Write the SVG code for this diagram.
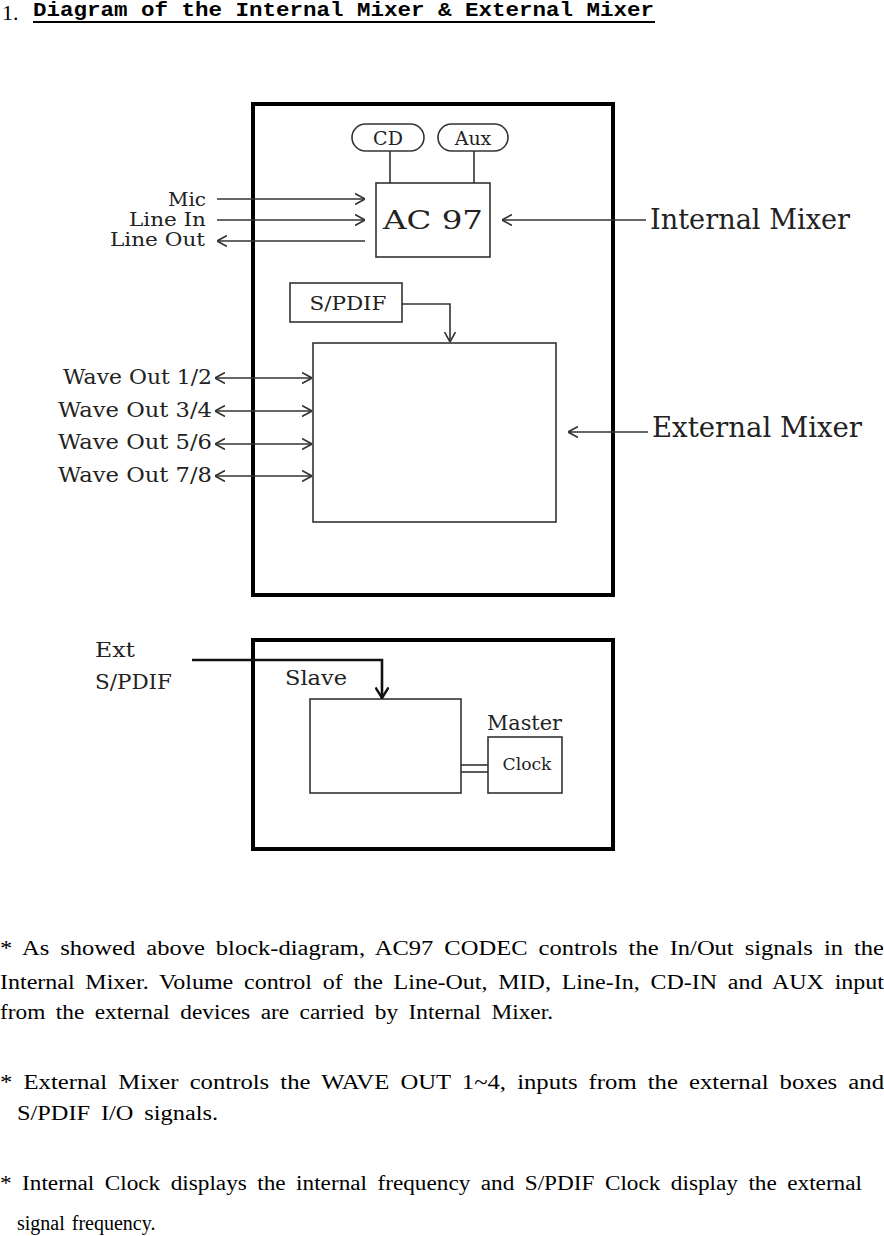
<svg xmlns="http://www.w3.org/2000/svg" width="884" height="1236" viewBox="0 0 884 1236">
<defs>
<style>
.bg{fill:#fff}
.outer{fill:none;stroke:#000;stroke-width:4}
.box{fill:#fff;stroke:#333;stroke-width:1.6}
.ln{fill:none;stroke:#333;stroke-width:1.6}
.thick{fill:none;stroke:#111;stroke-width:2.6}
.lbl{font-family:"DejaVu Serif","Liberation Serif",serif;fill:#222}
.para{font-family:"Liberation Serif","Noto Sans CJK KR",serif;font-size:20px;word-spacing:4px;fill:#000}
.title{font-family:"Liberation Mono","DejaVu Sans Mono",monospace;font-weight:bold;font-size:20px;fill:#000}
</style>
<marker id="ah" viewBox="0 0 10 12" refX="10" refY="6" markerWidth="10" markerHeight="12" markerUnits="userSpaceOnUse" orient="auto-start-reverse">
<path d="M0,0.5 L10,6 L0,11.5" fill="none" stroke="#333" stroke-width="1.6"/>
</marker>
<marker id="ahb" viewBox="0 0 12 14" refX="11" refY="7" markerWidth="12" markerHeight="14" markerUnits="userSpaceOnUse" orient="auto">
<path d="M0.5,0.5 L11,7 L0.5,13.5" fill="none" stroke="#111" stroke-width="2.4"/>
</marker>
</defs>
<rect class="bg" x="0" y="0" width="884" height="1236"/>

<g id="title">
<text x="2" y="20" font-family="Liberation Serif,serif" font-size="22" fill="#000">1.</text>
<text class="title" x="33" y="16" textLength="621" lengthAdjust="spacingAndGlyphs">Diagram of the Internal Mixer &amp; External Mixer</text>
<line x1="33" y1="22" x2="655" y2="22" stroke="#000" stroke-width="2"/>
</g>

<g id="outer-top"><rect class="outer" x="253" y="104" width="360" height="491"/></g>
<g id="outer-bottom"><rect class="outer" x="253" y="640" width="360" height="209"/></g>

<g id="cd"><rect class="box" x="352" y="124" width="72" height="27" rx="13.5"/>
<text class="lbl" x="388" y="145" font-size="19" text-anchor="middle">CD</text></g>
<g id="aux"><rect class="box" x="438" y="124" width="70" height="27" rx="13.5"/>
<text class="lbl" x="473" y="145" font-size="19" text-anchor="middle">Aux</text></g>
<g id="ac97"><rect class="box" x="376" y="183" width="114" height="74"/>
<text class="lbl" x="433" y="229" font-size="26" text-anchor="middle" textLength="100" lengthAdjust="spacingAndGlyphs">AC 97</text></g>

<g id="spdif"><rect class="box" x="290" y="283" width="112" height="39"/>
<text class="lbl" x="348" y="310" font-size="18" text-anchor="middle" textLength="77" lengthAdjust="spacingAndGlyphs">S/PDIF</text></g>
<g id="external-mixer-box"><rect class="box" x="313" y="343" width="243" height="179"/></g>

<g id="slave"><rect class="box" x="310" y="699" width="151" height="94"/>
<text class="lbl" x="285" y="685" font-size="21" textLength="62" lengthAdjust="spacingAndGlyphs">Slave</text></g>
<g id="clock"><rect class="box" x="488" y="737" width="74" height="56"/>
<text class="lbl" x="527" y="770" font-size="16" text-anchor="middle" textLength="49" lengthAdjust="spacingAndGlyphs">Clock</text>
<text class="lbl" x="487" y="730" font-size="21" textLength="75" lengthAdjust="spacingAndGlyphs">Master</text></g>

<g id="labels">
<text class="lbl" x="206" y="206" font-size="18" text-anchor="end" textLength="38" lengthAdjust="spacingAndGlyphs">Mic</text>
<text class="lbl" x="206" y="226" font-size="18" text-anchor="end" textLength="77" lengthAdjust="spacingAndGlyphs">Line In</text>
<text class="lbl" x="205" y="246" font-size="18" text-anchor="end" textLength="95" lengthAdjust="spacingAndGlyphs">Line Out</text>
<text class="lbl" x="650" y="229" font-size="27" textLength="200" lengthAdjust="spacingAndGlyphs">Internal Mixer</text>
<text class="lbl" x="652" y="437" font-size="27" textLength="210" lengthAdjust="spacingAndGlyphs">External Mixer</text>
<text class="lbl" x="212" y="384" font-size="20" text-anchor="end" textLength="149" lengthAdjust="spacingAndGlyphs">Wave Out 1/2</text>
<text class="lbl" x="212" y="417" font-size="20" text-anchor="end" textLength="154" lengthAdjust="spacingAndGlyphs">Wave Out 3/4</text>
<text class="lbl" x="212" y="449" font-size="20" text-anchor="end" textLength="154" lengthAdjust="spacingAndGlyphs">Wave Out 5/6</text>
<text class="lbl" x="212" y="482" font-size="20" text-anchor="end" textLength="154" lengthAdjust="spacingAndGlyphs">Wave Out 7/8</text>
<text class="lbl" x="95" y="657" font-size="21" textLength="40" lengthAdjust="spacingAndGlyphs">Ext</text>
<text class="lbl" x="95" y="689" font-size="21" textLength="77" lengthAdjust="spacingAndGlyphs">S/PDIF</text>
</g>

<g id="connectors">
<line class="ln" x1="217" y1="199" x2="365" y2="199" marker-end="url(#ah)"/>
<line class="ln" x1="217" y1="220" x2="365" y2="220" marker-end="url(#ah)"/>
<line class="ln" x1="365" y1="241" x2="217" y2="241" marker-end="url(#ah)"/>
<line class="ln" x1="390" y1="151" x2="390" y2="183"/>
<line class="ln" x1="474" y1="151" x2="474" y2="183"/>
<line class="ln" x1="646" y1="220" x2="502" y2="220" marker-end="url(#ah)"/>
<polyline class="ln" points="402,304 450,304 450,342" marker-end="url(#ah)"/>
<line class="ln" x1="215" y1="378" x2="312" y2="378" marker-start="url(#ah)" marker-end="url(#ah)"/>
<line class="ln" x1="215" y1="411" x2="312" y2="411" marker-start="url(#ah)" marker-end="url(#ah)"/>
<line class="ln" x1="215" y1="444" x2="312" y2="444" marker-start="url(#ah)" marker-end="url(#ah)"/>
<line class="ln" x1="215" y1="476" x2="312" y2="476" marker-start="url(#ah)" marker-end="url(#ah)"/>
<line class="ln" x1="648" y1="432" x2="568" y2="432" marker-end="url(#ah)"/>
<polyline class="thick" points="192,660 382,660 382,698" marker-end="url(#ahb)"/>
<line class="ln" x1="461" y1="765" x2="488" y2="765"/>
<line class="ln" x1="461" y1="772" x2="488" y2="772"/>
</g>

<g id="notes">
<text class="para" x="0" y="955" textLength="884" lengthAdjust="spacingAndGlyphs">* As showed above block-diagram, AC97 CODEC controls the In/Out signals in the</text>
<text class="para" x="0" y="989" textLength="884" lengthAdjust="spacingAndGlyphs">Internal Mixer. Volume control of the Line-Out, MID, Line-In, CD-IN and AUX input</text>
<text class="para" x="0" y="1019" textLength="553" lengthAdjust="spacingAndGlyphs">from the external devices are carried by Internal Mixer.</text>
<text class="para" x="0" y="1089" textLength="884" lengthAdjust="spacingAndGlyphs">* External Mixer controls the WAVE OUT 1~4, inputs from the external boxes and</text>
<text class="para" x="17" y="1120" textLength="201" lengthAdjust="spacingAndGlyphs">S/PDIF I/O signals.</text>
<text class="para" x="0" y="1190" textLength="862" lengthAdjust="spacingAndGlyphs">* Internal Clock displays the internal frequency and S/PDIF Clock display the external</text>
<text class="para" x="17" y="1230" style="word-spacing:2px">signal frequency.</text>
</g>
</svg>
